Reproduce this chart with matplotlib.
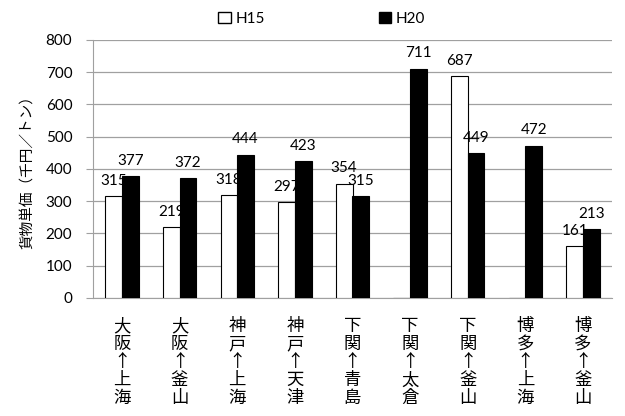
import matplotlib
matplotlib.use("Agg")
import matplotlib.pyplot as plt
import numpy as np
from matplotlib.patches import Patch

plt.rcParams["font.family"] = ["Lato", "Noto Sans CJK JP", "DejaVu Sans"]
CJK = ["Noto Sans CJK JP", "DejaVu Sans"]

routes = ["大阪↑上海", "大阪↑釜山", "神戸↑上海", "神戸↑天津", "下関↑青島",
          "下関↑太倉", "下関↑釜山", "博多↑上海", "博多↑釜山"]
h15 = [315, 219, 318, 297, 354, None, 687, None, 161]
h20 = [377, 372, 444, 423, 315, 711, 449, 472, 213]

fig = plt.figure(figsize=(6.25, 4.16), dpi=100)
ax = fig.add_axes([0.149, 0.284, 0.830, 0.620])

x = np.arange(len(routes))
w = 0.29
h15_vals = [v if v is not None else 0 for v in h15]
ax.bar(x - w / 2, h15_vals, width=w, color="white", edgecolor="black", linewidth=0.8, zorder=3)
ax.bar(x + w / 2, h20, width=w, color="black", edgecolor="black", linewidth=0.8, zorder=3)

# value labels sit a little above each bar
for xi, v in zip(x, h15):
    if v is not None:
        ax.annotate(str(v), (xi - w / 2, v), xytext=(0, 6), textcoords="offset points",
                    ha="center", va="bottom", fontsize=11)
for xi, v in zip(x, h20):
    ax.annotate(str(v), (xi + w / 2, v), xytext=(0, 6), textcoords="offset points",
                ha="center", va="bottom", fontsize=11)

ax.set_xlim(-0.5, len(routes) - 0.5)
ax.set_ylim(0, 800)
ax.set_yticks(range(0, 801, 100))
ax.yaxis.grid(True, color="#a0a0a0", linewidth=0.9, zorder=0)
ax.set_axisbelow(True)
for s in ["top", "right"]:
    ax.spines[s].set_visible(False)
ax.spines["left"].set_color("#a0a0a0")
ax.spines["bottom"].set_color("#a0a0a0")
ax.tick_params(axis="y", colors="#a0a0a0", labelcolor="black", labelsize=11, length=5, pad=10)
ax.tick_params(axis="x", length=0, pad=14)
ax.set_xticks(x)
ax.set_xticklabels(["\n".join(r) for r in routes], fontsize=12.5, family=CJK,
                   va="top", linespacing=1.0)
ax.set_ylabel("貨物単価（千円／トン）", fontsize=10.5, labelpad=8, family=CJK)

handles = [Patch(facecolor="white", edgecolor="black", label="H15"),
           Patch(facecolor="black", edgecolor="black", label="H20")]
fig.legend(handles=handles, loc="upper center", bbox_to_anchor=(0.515, 1.005), ncol=2,
           frameon=False, fontsize=11, handlelength=0.8, handleheight=0.8,
           handletextpad=0.3, columnspacing=7.5)

fig.savefig("out.png", dpi=100)
